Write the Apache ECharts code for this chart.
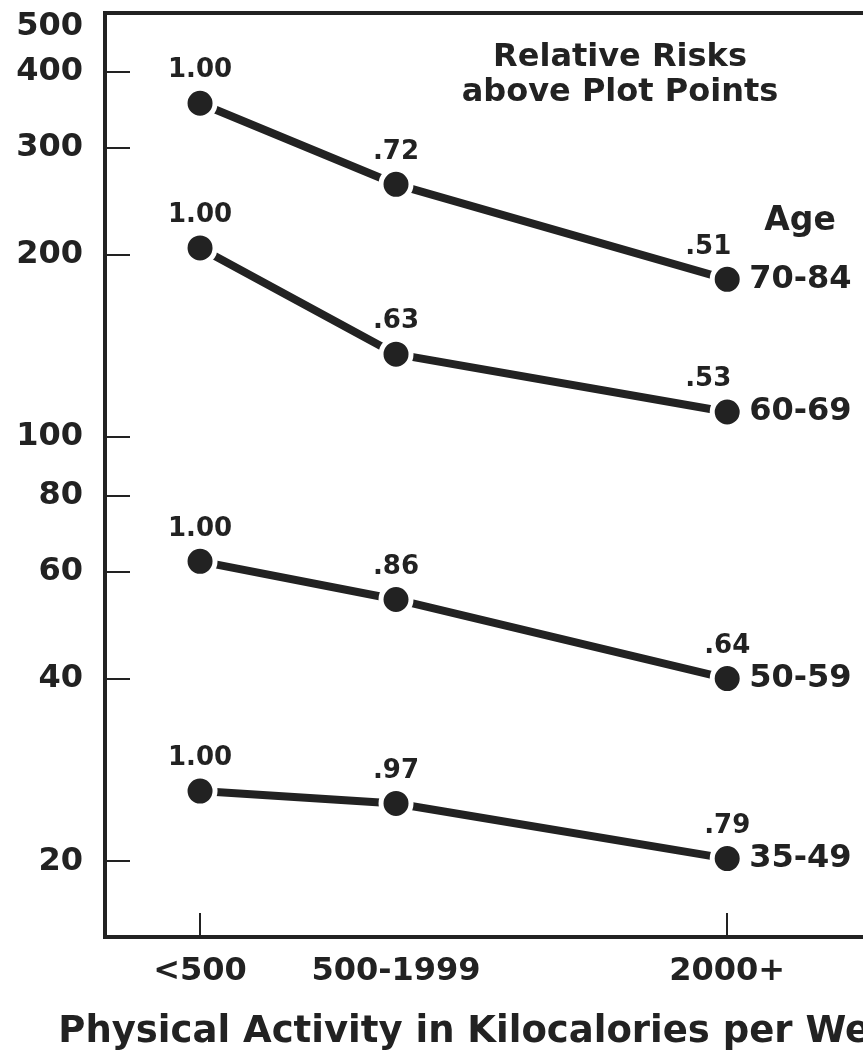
<!DOCTYPE html>
<html><head><meta charset="utf-8">
<script src="https://cdn.jsdelivr.net/npm/echarts@6/dist/echarts.min.js"></script>
<style>html,body{margin:0;padding:0;background:#fff}#chart{width:863px;height:1051px}</style>
</head><body><div id="chart"></div>
<script>
// ---- data ----
const activityLabels = ['<500', '500-1999', '2000+'];
const activityKcal = [250, 1250, 2940];
const ageGroups = ['70-84', '60-69', '50-59', '35-49'];
const rates7084 = [355, 261, 182];
const rates6069 = [205, 137, 110];
const rates5059 = [62.4, 54, 40];
const rates3549 = [26.1, 24.9, 20.2];
const risks7084 = ['1.00', '.72', '.51'];
const risks6069 = ['1.00', '.63', '.53'];
const risks5059 = ['1.00', '.86', '.64'];
const risks3549 = ['1.00', '.97', '.79'];
const yTickValues = [20, 40, 60, 80, 100, 200, 300, 400, 500];
const noteLines = ['Relative Risks', 'above Plot Points'];
const legendTitle = 'Age';
const xTitle = 'Physical Activity in Kilocalories per Week';

// ---- styling ----
const INK = '#222';
const FONT = 'DejaVu Sans';
const groupRates = [rates7084, rates6069, rates5059, rates3549];
const groupRisks = [risks7084, risks6069, risks5059, risks3549];
const riskLabelShift = [[0, 0, -19], [0, 0, -19], [0, 0, 0], [0, 0, 0]];

const series = ageGroups.map((name, g) => ({
  name: name,
  type: 'line',
  silent: true,
  symbol: 'circle',
  symbolSize: 30,
  itemStyle: { color: INK, borderColor: '#fff', borderWidth: 5 },
  lineStyle: { color: INK, width: 8 },
  label: {
    show: true, position: 'top', distance: 2,
    fontFamily: FONT, fontWeight: 'bold', fontSize: 26, color: INK,
    formatter: p => groupRisks[g][p.dataIndex]
  },
  endLabel: {
    show: true, distance: 22, formatter: '{a}',
    fontFamily: FONT, fontWeight: 'bold', fontSize: 32, color: INK
  },
  data: groupRates[g].map((v, i) => ({
    value: [activityKcal[i], v],
    label: { offset: [riskLabelShift[g][i], 0] }
  }))
}));

const chart = echarts.init(document.getElementById('chart'), null, { renderer: 'canvas' });
chart.setOption({
  animation: false,
  backgroundColor: '#fff',
  grid: {
    show: true, borderColor: INK, borderWidth: 4,
    left: 105, top: 13, right: -10, bottom: 114,
    containLabel: false, outerBoundsMode: 'none'
  },
  xAxis: {
    type: 'value', min: -235, max: 3684,
    splitLine: { show: false },
    axisLine: { show: true, onZero: false, lineStyle: { color: INK, width: 4 } },
    axisTick: { show: true, inside: true, length: 24, lineStyle: { color: INK, width: 2 },
      customValues: [activityKcal[0], activityKcal[2]] },
    axisLabel: {
      customValues: activityKcal, margin: 19,
      fontFamily: FONT, fontWeight: 'bold', fontSize: 32, color: INK,
      formatter: v => activityLabels[activityKcal.indexOf(v)] || ''
    },
    name: xTitle, nameLocation: 'middle', nameGap: 77,
    nameTextStyle: { fontFamily: FONT, fontWeight: 'bold', fontSize: 37, color: INK }
  },
  yAxis: {
    type: 'log', logBase: 10, min: 15, max: 500,
    splitLine: { show: false },
    axisLine: { show: true, onZero: false, lineStyle: { color: INK, width: 4 } },
    axisTick: { show: true, inside: true, length: 25, lineStyle: { color: INK, width: 2 },
      customValues: yTickValues.slice(0, -1) },
    axisLabel: {
      customValues: yTickValues, margin: 22,
      fontFamily: FONT, fontWeight: 'bold', fontSize: 32, color: INK,
      formatter: v => v === 500 ? '{top|500}' : String(v),
      rich: { top: { fontFamily: FONT, fontWeight: 'bold', fontSize: 32, color: INK, padding: [28, 0, 0, 0] } }
    }
  },
  graphic: [
    { type: 'text', x: 620, y: 58, style: { text: noteLines[0], textAlign: 'center', textVerticalAlign: 'middle', font: 'bold 32px "DejaVu Sans"', fill: INK } },
    { type: 'text', x: 620, y: 93, style: { text: noteLines[1], textAlign: 'center', textVerticalAlign: 'middle', font: 'bold 32px "DejaVu Sans"', fill: INK } },
    { type: 'text', x: 800, y: 221, style: { text: legendTitle, textAlign: 'center', textVerticalAlign: 'middle', font: 'bold 33px "DejaVu Sans"', fill: INK } }
  ],
  series: series
});
</script></body></html>
